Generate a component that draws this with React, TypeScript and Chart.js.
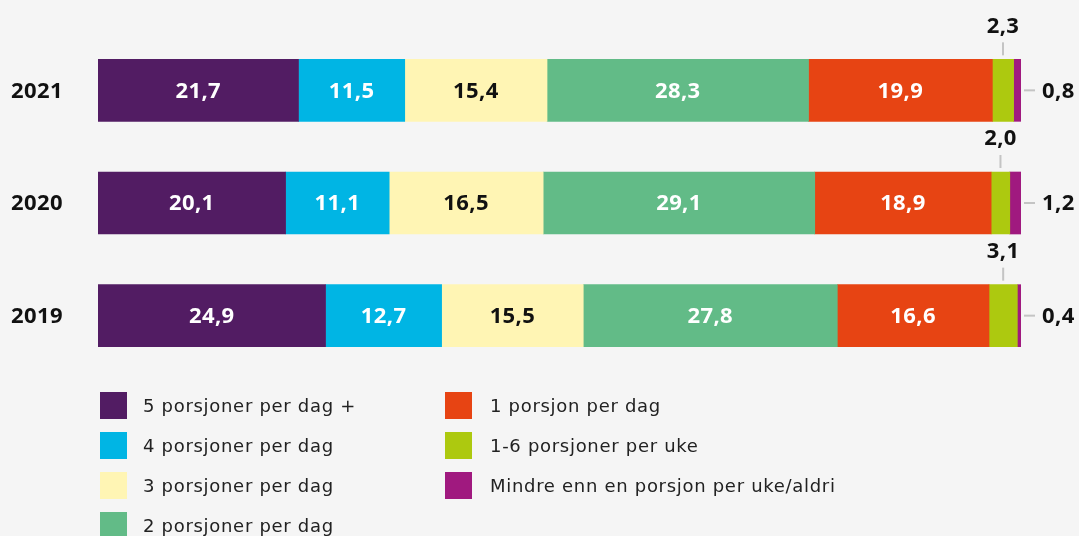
import React, { useEffect, useRef } from "react";
import { Chart, registerables } from "chart.js";

Chart.register(...registerables);

const categories = ["2021", "2020", "2019"];
const seriesNames = [
  "5 porsjoner per dag +",
  "4 porsjoner per dag",
  "3 porsjoner per dag",
  "2 porsjoner per dag",
  "1 porsjon per dag",
  "1-6 porsjoner per uke",
  "Mindre enn en porsjon per uke/aldri",
];
const femPerDag = [21.7, 20.1, 24.9];
const firePerDag = [11.5, 11.1, 12.7];
const trePerDag = [15.4, 16.5, 15.5];
const toPerDag = [28.3, 29.1, 27.8];
const enPerDag = [19.9, 18.9, 16.6];
const perUke = [2.3, 2.0, 3.1];
const mindre = [0.8, 1.2, 0.4];

const seriesValues = [femPerDag, firePerDag, trePerDag, toPerDag, enPerDag, perUke, mindre];
const colors = ["#521c63", "#00b5e4", "#fff5b4", "#62bb87", "#e74413", "#adc90f", "#a0197f"];
const labelColors = ["#ffffff", "#ffffff", "#111111", "#ffffff", "#ffffff", "#111111", "#111111"];

const FONT = "'Open Sans', sans-serif";
const LEGEND_FONT = "'DejaVu Sans', sans-serif";

const fmt = (v: number) => v.toFixed(1).replace(".", ",");

export default function App() {
  const ref = useRef<HTMLCanvasElement | null>(null);

  useEffect(() => {
    const canvas = ref.current;
    if (!canvas) return;
    const totals = categories.map((_, i) => seriesValues.reduce((s, arr) => s + arr[i], 0));

    const labelPlugin = {
      id: "labels",
      afterDatasetsDraw(chart: any) {
        const ctx = chart.ctx;
        ctx.save();
        ctx.font = `700 22px ${FONT}`;
        try { (ctx as any).letterSpacing = "0.4px"; } catch (e) {}
        ctx.fillStyle = "#111";
        ctx.textAlign = "left";
        ctx.textBaseline = "middle";
        const yScale = chart.scales.y;
        categories.forEach((c, i) => {
          ctx.fillText(c, 11, yScale.getPixelForValue(i) + 1);
        });
        chart.data.datasets.forEach((ds: any, di: number) => {
          const meta = chart.getDatasetMeta(di);
          meta.data.forEach((bar: any, i: number) => {
            const raw = seriesValues[di][i];
            const left = bar.base;
            const right = bar.x;
            const cx = (left + right) / 2;
            const top = bar.y - bar.height / 2;
            if (di < 5) {
              ctx.fillStyle = labelColors[di];
              ctx.textAlign = "center";
              ctx.textBaseline = "middle";
              ctx.fillText(fmt(raw), cx, bar.y + 1);
            } else if (di === 5) {
              ctx.strokeStyle = "#c4c4c4";
              ctx.lineWidth = 2;
              ctx.beginPath();
              ctx.moveTo(cx, top - 17);
              ctx.lineTo(cx, top - 4);
              ctx.stroke();
              ctx.fillStyle = "#111";
              ctx.textAlign = "center";
              ctx.textBaseline = "middle";
              ctx.fillText(fmt(raw), cx, top - 33);
            } else {
              ctx.strokeStyle = "#c4c4c4";
              ctx.lineWidth = 2;
              ctx.beginPath();
              ctx.moveTo(right + 3, bar.y);
              ctx.lineTo(right + 14, bar.y);
              ctx.stroke();
              ctx.fillStyle = "#111";
              ctx.textAlign = "left";
              ctx.textBaseline = "middle";
              ctx.fillText(fmt(raw), right + 21, bar.y + 1);
            }
          });
        });
        ctx.restore();
      },
    };

    const chart = new Chart(canvas, {
      type: "bar",
      data: {
        labels: categories,
        datasets: seriesValues.map((arr, di) => ({
          label: seriesNames[di],
          data: arr.map((v, i) => (v / totals[i]) * 100),
          backgroundColor: colors[di],
          borderWidth: 0,
          barThickness: 62,
        })),
      },
      options: {
        indexAxis: "y",
        animation: false,
        responsive: false,
        maintainAspectRatio: false,
        layout: { padding: { left: 98, right: 58, top: 34, bottom: 164 } },
        scales: {
          x: { stacked: true, min: 0, max: 100, display: false },
          y: { stacked: true, display: false },
        },
        plugins: {
          legend: { display: false },
          tooltip: { enabled: false },
        },
      },
      plugins: [labelPlugin],
    } as any);
    return () => chart.destroy();
  }, []);

  const legendItem = (i: number, left: number, top: number) => (
    <div key={i} style={{ position: "absolute", left, top, height: 27, display: "flex", alignItems: "center" }}>
      <div style={{ width: 27, height: 27, background: colors[i] }} />
      <div
        style={{
          marginLeft: left < 300 ? 16 : 18,
          fontFamily: LEGEND_FONT,
          fontSize: 18,
          letterSpacing: "0.7px",
          color: "#222",
          whiteSpace: "nowrap",
          lineHeight: "27px",
        }}
      >
        {seriesNames[i]}
      </div>
    </div>
  );

  return (
    <div
      style={{
        position: "fixed",
        left: 0,
        top: 0,
        width: 1079,
        height: 536,
        background: "#f5f5f5",
        overflow: "hidden",
      }}
    >
      <canvas ref={ref} width={1079} height={536} style={{ position: "absolute", left: 0, top: 0 }} />
      {[0, 1, 2, 3].map((i) => legendItem(i, 100, 392 + i * 40))}
      {[4, 5, 6].map((i, k) => legendItem(i, 445, 392 + k * 40))}
    </div>
  );
}
